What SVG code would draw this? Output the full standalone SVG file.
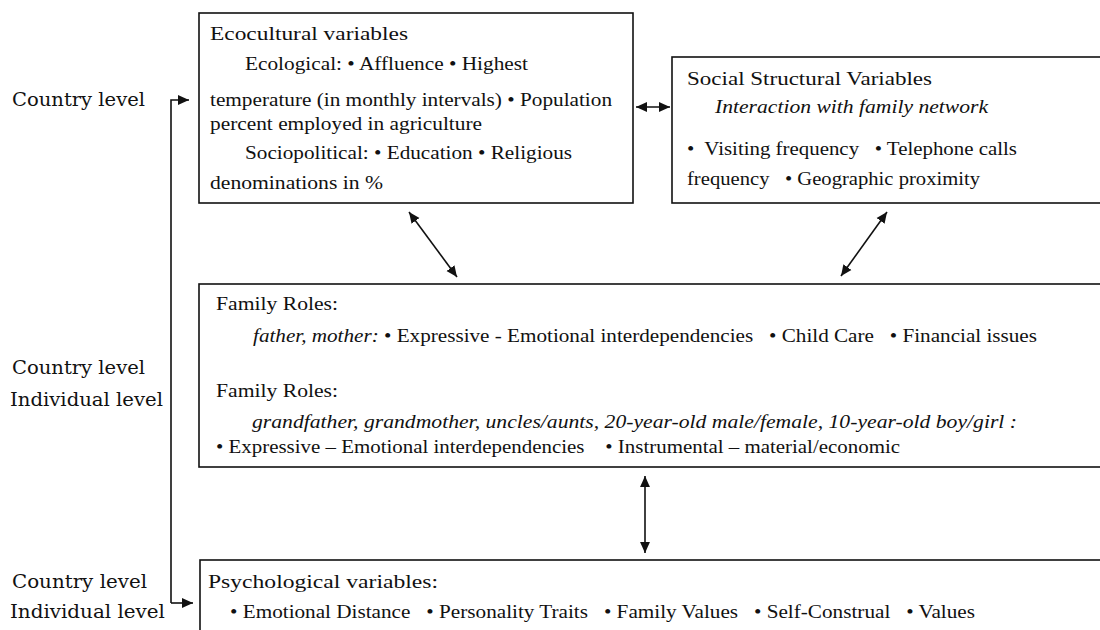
<svg xmlns="http://www.w3.org/2000/svg" width="1100" height="630" viewBox="0 0 1100 630">
<style>
.box{fill:#fff;stroke:#111;stroke-width:1.6}
.t{font-family:"Liberation Serif","Times New Roman",serif;font-size:19px;fill:#111}
.lbl{font-family:"DejaVu Serif","Liberation Serif",serif;font-size:18px;fill:#111}
.i{font-style:italic}
.c{fill:none;stroke:#111;stroke-width:1.6}
</style>
<defs>
<marker id="ah" viewBox="0 0 10 10" refX="10" refY="5" markerWidth="11" markerHeight="11" markerUnits="userSpaceOnUse" orient="auto-start-reverse">
<path d="M0,0.5 L10,5 L0,9.5 z" fill="#111"/>
</marker>
</defs>
<rect width="1100" height="630" fill="#fff"/>

<g id="labels">
<text class="lbl" x="12" y="106" textLength="133" lengthAdjust="spacingAndGlyphs">Country level</text>
<text class="lbl" x="12" y="374" textLength="133" lengthAdjust="spacingAndGlyphs">Country level</text>
<text class="lbl" x="10" y="406" textLength="153" lengthAdjust="spacingAndGlyphs">Individual level</text>
<text class="lbl" x="12" y="588" textLength="135" lengthAdjust="spacingAndGlyphs">Country level</text>
<text class="lbl" x="10" y="618" textLength="155" lengthAdjust="spacingAndGlyphs">Individual level</text>
</g>

<g id="ecocultural">
<rect class="box" x="199" y="13" width="434" height="190"/>
<text class="t" x="210" y="40" textLength="198" lengthAdjust="spacingAndGlyphs">Ecocultural variables</text>
<text class="t" x="245" y="70" textLength="283" lengthAdjust="spacingAndGlyphs">Ecological: • Affluence • Highest</text>
<text class="t" x="210" y="106" textLength="402" lengthAdjust="spacingAndGlyphs">temperature (in monthly intervals) • Population</text>
<text class="t" x="210" y="130" textLength="272" lengthAdjust="spacingAndGlyphs">percent employed in agriculture</text>
<text class="t" x="245" y="159" textLength="327" lengthAdjust="spacingAndGlyphs">Sociopolitical: • Education • Religious</text>
<text class="t" x="210" y="189" textLength="173" lengthAdjust="spacingAndGlyphs">denominations in %</text>
</g>

<g id="social">
<rect class="box" x="672" y="57" width="432" height="146"/>
<text class="t" x="687" y="85" textLength="245" lengthAdjust="spacingAndGlyphs">Social Structural Variables</text>
<text class="t i" x="715" y="113" textLength="273" lengthAdjust="spacingAndGlyphs">Interaction with family network</text>
<text class="t" x="687" y="155" textLength="330" lengthAdjust="spacingAndGlyphs" xml:space="preserve">•  Visiting frequency   • Telephone calls</text>
<text class="t" x="687" y="185" textLength="293" lengthAdjust="spacingAndGlyphs" xml:space="preserve">frequency   • Geographic proximity</text>
</g>

<g id="family">
<rect class="box" x="199" y="284" width="905" height="183"/>
<text class="t" x="216" y="310" textLength="122" lengthAdjust="spacingAndGlyphs">Family Roles:</text>
<text class="t" x="253" y="342" textLength="784" lengthAdjust="spacingAndGlyphs" xml:space="preserve"><tspan class="i">father, mother:</tspan> • Expressive - Emotional interdependencies   • Child Care   • Financial issues</text>
<text class="t" x="216" y="397" textLength="122" lengthAdjust="spacingAndGlyphs">Family Roles:</text>
<text class="t i" x="252" y="428" textLength="765" lengthAdjust="spacingAndGlyphs">grandfather, grandmother, uncles/aunts, 20-year-old male/female, 10-year-old boy/girl :</text>
<text class="t" x="216" y="453" textLength="684" lengthAdjust="spacingAndGlyphs" xml:space="preserve">• Expressive – Emotional interdependencies    • Instrumental – material/economic</text>
</g>

<g id="psychological">
<rect class="box" x="200" y="560" width="904" height="80"/>
<text class="t" x="208" y="588" textLength="230" lengthAdjust="spacingAndGlyphs">Psychological variables:</text>
<text class="t" x="230" y="618" textLength="745" lengthAdjust="spacingAndGlyphs" xml:space="preserve">• Emotional Distance   • Personality Traits   • Family Values   • Self-Construal   • Values</text>
</g>

<g id="connectors">
<path class="c" d="M171,603 L171,100 L189,100" marker-end="url(#ah)"/>
<path class="c" d="M171,603 L193,603" marker-end="url(#ah)"/>
<path class="c" d="M636,107 L670,107" marker-start="url(#ah)" marker-end="url(#ah)"/>
<path class="c" d="M409,212 L457,277" marker-start="url(#ah)" marker-end="url(#ah)"/>
<path class="c" d="M887,212 L841,276" marker-start="url(#ah)" marker-end="url(#ah)"/>
<path class="c" d="M645,476 L645,553" marker-start="url(#ah)" marker-end="url(#ah)"/>
</g>
</svg>
